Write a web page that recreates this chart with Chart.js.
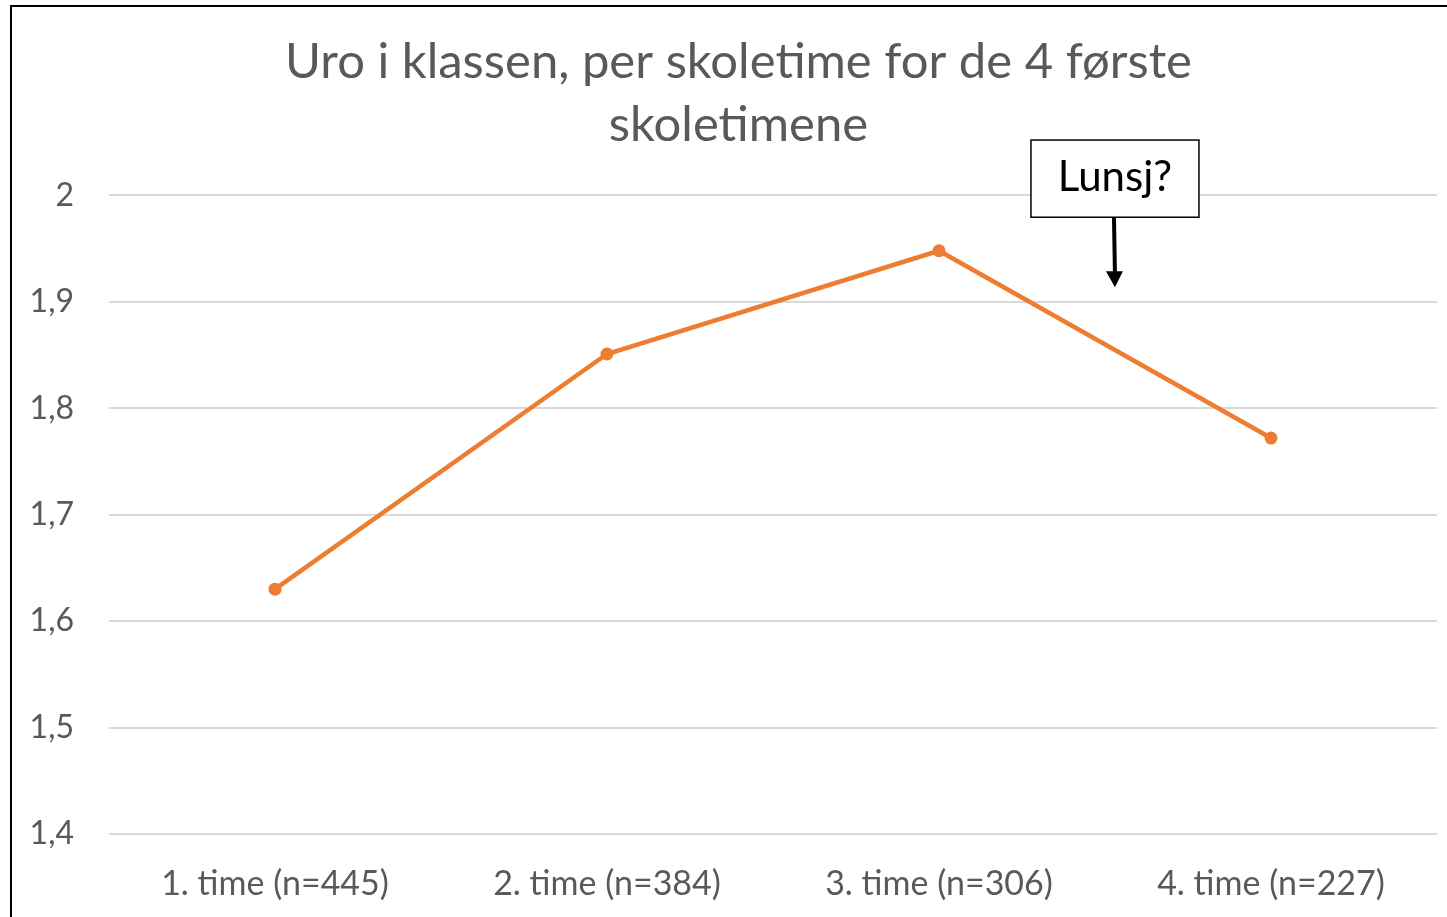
<!DOCTYPE html>
<html>
<head>
<meta charset="utf-8">
<script src="https://cdn.jsdelivr.net/npm/chart.js@4"></script>
<style>
    html, body { margin: 0; padding: 0; background: #fff; overflow: hidden; }
    #frame {
        position: absolute; left: 10px; top: 5px;
        width: 1600px; height: 1000px;
        border-left: 2px solid #000; border-top: 2px solid #000;
    }
    #wrap { position: absolute; left: 0; top: 0; width: 1447px; height: 917px; }
</style>
</head>
<body>
<div id="frame"></div>
<div id="wrap"><canvas id="uroChart"></canvas></div>
<script>
// Data
const categories = ['1. time (n=445)', '2. time (n=384)', '3. time (n=306)', '4. time (n=227)'];
const uroValues = [1.63, 1.851, 1.948, 1.772];
const yTicks = [1.4, 1.5, 1.6, 1.7, 1.8, 1.9, 2];
const chartTitle = ['Uro i klassen, per skoletime for de 4 første', 'skoletimene'];
const noteText = 'Lunsj?';

const fontFam = 'Lato, "Open Sans", sans-serif';

// Flytt tittelen litt mot høyre (som i originalen)
const titleShift = {
    id: 'titleShift',
    afterLayout(chart) {
        if (chart.titleBlock) {
            chart.titleBlock.left += 20;
            chart.titleBlock.right += 20;
        }
    }
};

// Kommentarboks med pil ("Lunsj?")
const notePlugin = {
    id: 'lunsjNote',
    afterDraw(chart) {
        const { ctx, scales: { x, y } } = chart;
        const cx = x.getPixelForValue(2.527);
        const boxTop = y.getPixelForValue(2.052);
        const boxBottom = y.getPixelForValue(1.9795);
        const tipY = y.getPixelForValue(1.9136);
        const boxW = 168;

        ctx.save();
        ctx.fillStyle = '#fff';
        ctx.fillRect(cx - boxW / 2 + 1, boxTop, boxW, boxBottom - boxTop);
        ctx.strokeStyle = '#000';
        ctx.lineWidth = 1.5;
        ctx.strokeRect(cx - boxW / 2 + 1, boxTop, boxW, boxBottom - boxTop);

        ctx.fillStyle = '#000';
        ctx.font = '42px ' + fontFam;
        ctx.textAlign = 'center';
        ctx.textBaseline = 'middle';
        ctx.fillText(noteText, cx + 1, (boxTop + boxBottom) / 2 - 1);

        // pil
        ctx.lineWidth = 4;
        ctx.beginPath();
        ctx.moveTo(cx, boxBottom);
        ctx.lineTo(cx + 1, tipY - 12);
        ctx.stroke();
        ctx.beginPath();
        ctx.moveTo(cx - 8, tipY - 16);
        ctx.lineTo(cx + 9, tipY - 16);
        ctx.lineTo(cx + 1, tipY);
        ctx.closePath();
        ctx.fill();
        ctx.restore();
    }
};

const ctx = document.getElementById('uroChart').getContext('2d');
new Chart(ctx, {
    type: 'line',
    data: {
        labels: categories,
        datasets: [{
            label: 'Uro',
            data: uroValues,
            borderColor: '#ED7D31',
            backgroundColor: '#ED7D31',
            borderWidth: 4.5,
            pointRadius: 6.5,
            pointBorderWidth: 0,
            tension: 0
        }]
    },
    options: {
        responsive: true,
        maintainAspectRatio: false,
        animation: false,
        layout: { padding: { left: 0, right: 10, top: 0, bottom: 0 } },
        plugins: {
            legend: { display: false },
            tooltip: { enabled: false },
            title: {
                display: true,
                text: chartTitle,
                color: '#595959',
                font: { family: fontFam, size: 49, weight: 'normal', lineHeight: 1.3 },
                padding: { top: 30, bottom: 38 }
            }
        },
        scales: {
            x: {
                offset: true,
                grid: { display: false, drawTicks: false, offset: true },
                border: { display: false },
                ticks: {
                    color: '#595959',
                    font: { family: fontFam, size: 34 },
                    padding: 30,
                    maxRotation: 0
                },
                afterFit(scale) { scale.height = 83; }
            },
            y: {
                min: 1.4,
                max: 2,
                afterBuildTicks(scale) {
                    scale.ticks = yTicks.map(v => ({ value: v }));
                },
                grid: { color: '#d9d9d9', lineWidth: 2, drawTicks: false },
                border: { display: false },
                ticks: {
                    color: '#595959',
                    font: { family: fontFam, size: 32 },
                    padding: 35,
                    callback: (v) => String(v).replace('.', ',')
                },
                afterFit(scale) { scale.width = 109; }
            }
        }
    },
    plugins: [titleShift, notePlugin]
});
</script>
</body>
</html>
